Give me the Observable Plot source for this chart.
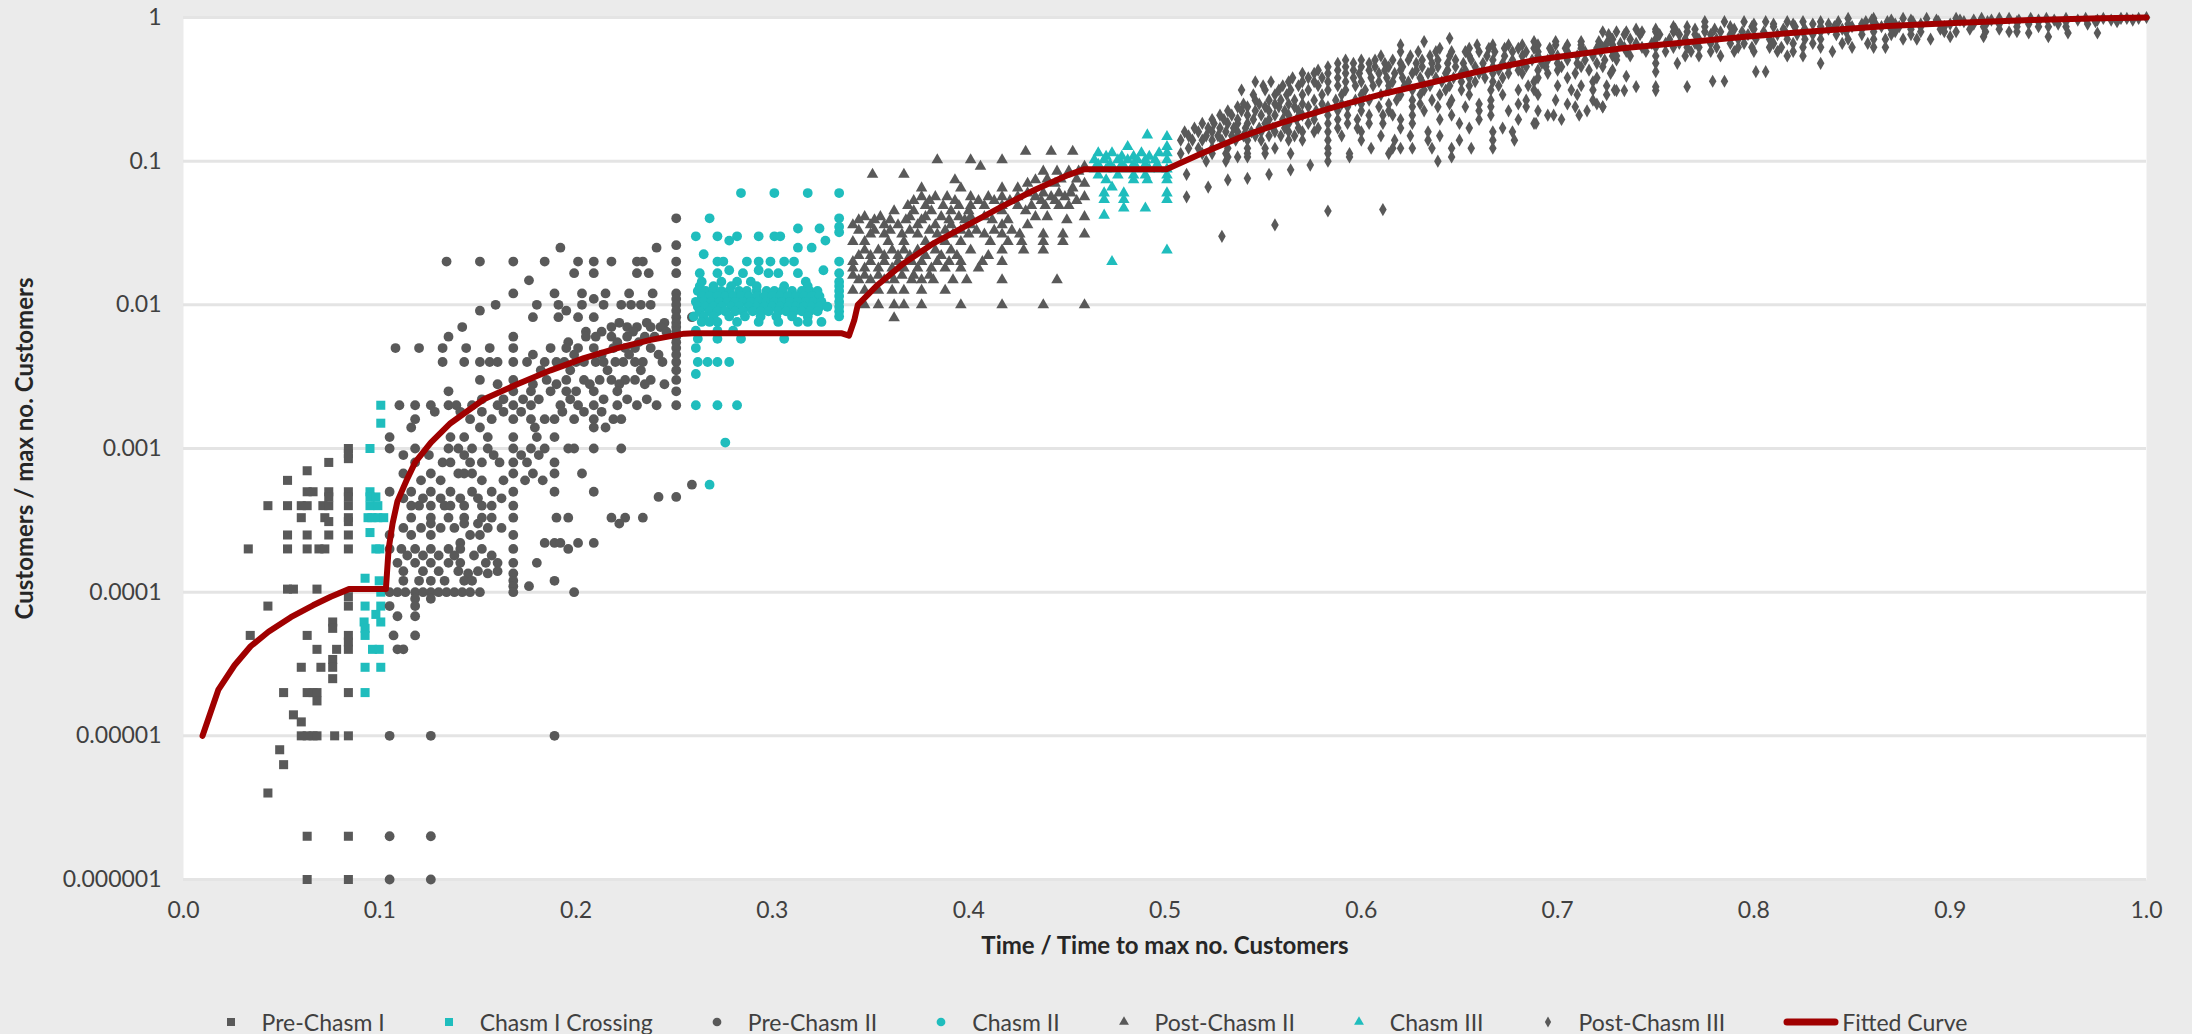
<!DOCTYPE html>
<html><head><meta charset="utf-8">
<script src="https://cdn.jsdelivr.net/npm/d3@7"></script>
<script src="https://cdn.jsdelivr.net/npm/@observablehq/plot@0.6"></script>
<style>
html,body{margin:0;padding:0;background:#ebebeb;}
body{width:2192px;height:1034px;overflow:hidden;position:relative;font-family:Lato,"Open Sans",sans-serif;}
#chart{position:absolute;left:0;top:0;}
#legend{position:absolute;left:0;top:1006px;width:2192px;height:32px;display:flex;justify-content:center;align-items:center;font-size:23px;color:#404040;}
.item{display:flex;align-items:center;margin:0 29px;white-space:nowrap;}
.item svg{margin-right:25px;}
.item.line svg{margin-right:3px;}
</style></head><body>
<div id="chart"></div><div id="legend"></div>
<script>
// ---- axis ticks ----
const xTicks = [0, 0.1, 0.2, 0.3, 0.4, 0.5, 0.6, 0.7, 0.8, 0.9, 1.0];
const yTicks = [1e-6, 1e-5, 1e-4, 1e-3, 1e-2, 1e-1, 1];
const yTickLabels = ["0.000001", "0.00001", "0.0001", "0.001", "0.01", "0.1", "1"];
const xTitle = "Time / Time to max no. Customers";
const yTitle = "Customers / max no. Customers";
const seriesNames = ["Pre-Chasm I", "Chasm I Crossing", "Pre-Chasm II", "Chasm II", "Post-Chasm II", "Chasm III", "Post-Chasm III", "Fitted Curve"];

// ---- series values: rows of [y, [x, x, ...]] ----
const preChasm1 = [
  [0.001, [0.084]], [0.00092, [0.084]], [0.00085, [0.084]], [0.0008, [0.074]], [0.0007, [0.063]], [0.0006, [0.053]],
  [0.0005, [0.063, 0.066, 0.074, 0.084]], [0.00046, [0.074, 0.084]],
  [0.0004, [0.043, 0.053, 0.060, 0.063, 0.071, 0.074, 0.084]],
  [0.00033, [0.060, 0.072, 0.084]], [0.00031, [0.074, 0.084]],
  [0.00025, [0.053, 0.063, 0.074, 0.084]],
  [0.0002, [0.033, 0.053, 0.063, 0.069, 0.072, 0.084]],
  [0.000105, [0.053, 0.056, 0.068]], [0.000093, [0.084]], [0.00008, [0.043, 0.084]],
  [0.000062, [0.076]], [0.000056, [0.076]], [0.00005, [0.034, 0.063, 0.084]], [0.000045, [0.084]],
  [0.00004, [0.068, 0.078, 0.084]], [0.000034, [0.076]], [0.00003, [0.060, 0.070, 0.076]], [0.000025, [0.076]],
  [0.00002, [0.051, 0.063, 0.066, 0.068, 0.084]], [0.0000175, [0.068]], [0.000014, [0.056]], [0.0000125, [0.060]],
  [0.00001, [0.060, 0.063, 0.066, 0.068, 0.077, 0.084]], [0.000008, [0.049]], [0.0000063, [0.051]],
  [0.000004, [0.043]], [0.000002, [0.063, 0.084]], [0.000001, [0.063, 0.084]]
];
const chasm1Crossing = [
  [0.002, [0.1005]], [0.0015, [0.1005]], [0.001, [0.095]], [0.0005, [0.095]], [0.00046, [0.095, 0.098]],
  [0.0004, [0.095, 0.099]], [0.00033, [0.094, 0.096, 0.099, 0.102]], [0.00026, [0.095]], [0.0002, [0.098, 0.1]],
  [0.000125, [0.0925]], [0.00012, [0.0997]], [0.0001, [0.1005]], [0.00008, [0.0925, 0.1005]], [0.00007, [0.098]],
  [0.000062, [0.092, 0.1005]], [0.000056, [0.0925]], [0.00005, [0.0925]], [0.00004, [0.0963, 0.0997]],
  [0.00003, [0.0925, 0.1005]], [0.00002, [0.0925]]
];
const preChasm2 = [
  [0.04, [0.251]], [0.026, [0.251]], [0.025, [0.192, 0.241]],
  [0.02, [0.134, 0.151, 0.168, 0.184, 0.201, 0.209, 0.218, 0.231, 0.234, 0.251]],
  [0.0166, [0.199, 0.209, 0.231, 0.237, 0.251]], [0.0148, [0.176]],
  [0.012, [0.168, 0.189, 0.203, 0.215, 0.227, 0.239, 0.251]], [0.011, [0.209, 0.251]],
  [0.01, [0.159, 0.180, 0.191, 0.203, 0.214, 0.223, 0.228, 0.233, 0.238, 0.251]],
  [0.0091, [0.151, 0.195, 0.251]], [0.0082, [0.178, 0.191, 0.201, 0.209, 0.251, 0.259]],
  [0.0075, [0.222, 0.236, 0.245, 0.251]],
  [0.007, [0.142, 0.218, 0.226, 0.231, 0.238, 0.243, 0.251]],
  [0.0065, [0.205, 0.213, 0.229, 0.246, 0.251]],
  [0.006, [0.135, 0.168, 0.205, 0.21, 0.218, 0.226, 0.235, 0.240, 0.251]],
  [0.0055, [0.196, 0.221, 0.232, 0.251]],
  [0.005, [0.108, 0.120, 0.132, 0.144, 0.156, 0.168, 0.187, 0.195, 0.201, 0.209, 0.219, 0.225, 0.23, 0.238, 0.251]],
  [0.0045, [0.178, 0.199, 0.213, 0.227, 0.242, 0.251]],
  [0.004, [0.132, 0.143, 0.151, 0.156, 0.160, 0.168, 0.175, 0.184, 0.19, 0.194, 0.2, 0.204, 0.21, 0.214, 0.22, 0.224, 0.23, 0.234, 0.244, 0.251]],
  [0.0035, [0.182, 0.197, 0.216, 0.233, 0.251]],
  [0.003, [0.151, 0.168, 0.185, 0.195, 0.204, 0.212, 0.218, 0.225, 0.230, 0.238, 0.251]],
  [0.0028, [0.16, 0.178, 0.19, 0.207, 0.222, 0.235, 0.245]],
  [0.0025, [0.135, 0.168, 0.177, 0.187, 0.195, 0.2, 0.209, 0.221, 0.251]],
  [0.0022, [0.152, 0.163, 0.173, 0.181, 0.197, 0.214, 0.226, 0.236]],
  [0.002, [0.110, 0.118, 0.126, 0.135, 0.139, 0.147, 0.160, 0.168, 0.177, 0.192, 0.201, 0.209, 0.221, 0.231, 0.241, 0.251]],
  [0.0018, [0.128, 0.141, 0.152, 0.163, 0.172, 0.193, 0.204, 0.213]],
  [0.0016, [0.118, 0.146, 0.157, 0.168, 0.177, 0.184, 0.189, 0.199, 0.209, 0.219, 0.223]],
  [0.0014, [0.116, 0.151, 0.179, 0.209, 0.215]],
  [0.0012, [0.105, 0.136, 0.143, 0.155, 0.168, 0.180, 0.189]],
  [0.001, [0.105, 0.118, 0.135, 0.140, 0.147, 0.155, 0.168, 0.177, 0.184, 0.196, 0.199, 0.209, 0.223]],
  [0.0009, [0.112, 0.125, 0.143, 0.158, 0.172, 0.181]],
  [0.0008, [0.118, 0.132, 0.136, 0.146, 0.152, 0.161, 0.168, 0.175, 0.189]],
  [0.00067, [0.112, 0.126, 0.140, 0.143, 0.147, 0.168, 0.178, 0.189, 0.203]],
  [0.0006, [0.121, 0.131, 0.152, 0.163, 0.174, 0.183]],
  [0.00056, [0.259]],
  [0.0005, [0.105, 0.116, 0.126, 0.136, 0.147, 0.157, 0.168, 0.189, 0.209]],
  [0.00046, [0.242, 0.251]], [0.00045, [0.112, 0.122, 0.131, 0.141, 0.15, 0.162]],
  [0.0004, [0.116, 0.12, 0.126, 0.133, 0.136, 0.143, 0.152, 0.157, 0.168]],
  [0.00033, [0.116, 0.126, 0.135, 0.143, 0.152, 0.157, 0.168, 0.190, 0.196, 0.218, 0.225, 0.234]],
  [0.0003, [0.126, 0.143, 0.150, 0.222]], [0.00028, [0.112, 0.121, 0.131, 0.138, 0.155, 0.162]],
  [0.00025, [0.105, 0.116, 0.126, 0.146, 0.151, 0.168]],
  [0.00022, [0.141, 0.184, 0.189, 0.192, 0.201, 0.209]],
  [0.0002, [0.105, 0.111, 0.118, 0.126, 0.135, 0.141, 0.152, 0.168, 0.196]],
  [0.00018, [0.114, 0.122, 0.13, 0.138, 0.148, 0.157]],
  [0.00016, [0.109, 0.118, 0.126, 0.135, 0.141, 0.154, 0.160, 0.168, 0.180]],
  [0.00014, [0.112, 0.122, 0.13, 0.14, 0.15, 0.16]],
  [0.000135, [0.145, 0.155, 0.168]],
  [0.00012, [0.112, 0.12, 0.126, 0.133, 0.143, 0.147, 0.168, 0.189]],
  [0.00011, [0.168, 0.176]],
  [0.0001, [0.105, 0.109, 0.113, 0.118, 0.122, 0.126, 0.13, 0.134, 0.138, 0.142, 0.146, 0.151, 0.168, 0.199]],
  [0.00009, [0.118, 0.126]], [0.00008, [0.105, 0.118]], [0.000068, [0.109, 0.118]],
  [0.00005, [0.107, 0.118]], [0.00004, [0.109, 0.112]],
  [0.00001, [0.105, 0.126, 0.189]], [0.000002, [0.105, 0.126]], [0.000001, [0.105, 0.126]]
];
const chasm2 = [
  [0.06, [0.284, 0.301, 0.318, 0.334]], [0.04, [0.268, 0.334]], [0.035, [0.334]], [0.034, [0.313, 0.324]], [0.032, [0.334]],
  [0.03, [0.261, 0.272, 0.282, 0.293, 0.301, 0.304]], [0.028, [0.278, 0.327]], [0.025, [0.313, 0.320]], [0.0225, [0.265]],
  [0.02, [0.272, 0.275, 0.287, 0.293, 0.299, 0.306, 0.311, 0.334]],
  [0.0174, [0.278, 0.293, 0.326]],
  [0.0166, [0.263, 0.272, 0.285, 0.298, 0.303, 0.313, 0.334]],
  [0.0145, [0.264, 0.274, 0.282, 0.289, 0.317, 0.334]],
  [0.0135, [0.263, 0.27, 0.279, 0.292, 0.306, 0.318, 0.334]],
  [0.0125, [0.262, 0.266, 0.270, 0.274, 0.278, 0.283, 0.287, 0.292, 0.297, 0.301, 0.305, 0.31, 0.315, 0.319, 0.323, 0.334]],
  [0.0115, [0.264, 0.268, 0.272, 0.276, 0.28, 0.284, 0.288, 0.292, 0.296, 0.3, 0.304, 0.308, 0.312, 0.316, 0.32, 0.324, 0.334]],
  [0.0105, [0.261, 0.265, 0.269, 0.273, 0.277, 0.281, 0.285, 0.289, 0.293, 0.297, 0.301, 0.305, 0.309, 0.313, 0.317, 0.321, 0.325, 0.334]],
  [0.0097, [0.262, 0.266, 0.27, 0.274, 0.279, 0.283, 0.288, 0.292, 0.296, 0.3, 0.304, 0.308, 0.312, 0.316, 0.32, 0.324, 0.328, 0.334]],
  [0.009, [0.263, 0.268, 0.272, 0.276, 0.281, 0.285, 0.29, 0.294, 0.298, 0.303, 0.307, 0.311, 0.315, 0.319, 0.323, 0.334]],
  [0.0083, [0.26, 0.265, 0.27, 0.278, 0.286, 0.294, 0.302, 0.31, 0.318, 0.334]],
  [0.0076, [0.264, 0.268, 0.272, 0.282, 0.293, 0.303, 0.313, 0.318, 0.325]],
  [0.0066, [0.261, 0.272, 0.280]], [0.0058, [0.262, 0.272, 0.284, 0.306]], [0.005, [0.261]],
  [0.004, [0.262, 0.267, 0.272, 0.278]], [0.0033, [0.261]], [0.002, [0.261, 0.272, 0.282]],
  [0.0011, [0.276]], [0.00056, [0.268]]
];
const postChasm2 = [
  [0.117, [0.429, 0.442, 0.453]], [0.102, [0.384, 0.401, 0.417]], [0.092, [0.406, 0.459]],
  [0.085, [0.438, 0.445, 0.451, 0.456]], [0.081, [0.351, 0.367]], [0.075, [0.440, 0.447, 0.455]],
  [0.074, [0.393, 0.434]], [0.07, [0.43, 0.444, 0.459]], [0.065, [0.376, 0.396, 0.417, 0.425, 0.453]],
  [0.06, [0.43, 0.438, 0.446, 0.452]],
  [0.0565, [0.376, 0.383, 0.389, 0.401, 0.410, 0.417, 0.425, 0.434, 0.442, 0.449, 0.459]],
  [0.053, [0.372, 0.38, 0.393, 0.405, 0.413, 0.421, 0.437, 0.444, 0.455]],
  [0.049, [0.369, 0.378, 0.387, 0.395, 0.401, 0.408, 0.417, 0.425, 0.432, 0.439, 0.446, 0.451]],
  [0.045, [0.362, 0.372, 0.381, 0.391, 0.400, 0.417, 0.429]],
  [0.041, [0.347, 0.355, 0.370, 0.378, 0.386, 0.395, 0.401, 0.408, 0.434, 0.440, 0.459]],
  [0.039, [0.344, 0.352, 0.36, 0.368, 0.376, 0.39, 0.398, 0.412, 0.42, 0.45]],
  [0.036, [0.341, 0.350, 0.357, 0.364, 0.374, 0.383, 0.391, 0.401, 0.417, 0.430]],
  [0.033, [0.344, 0.352, 0.36, 0.37, 0.38, 0.388, 0.396, 0.404, 0.413, 0.422]],
  [0.031, [0.350, 0.357, 0.366, 0.374, 0.384, 0.392, 0.400, 0.408, 0.417, 0.426, 0.438, 0.448, 0.459]],
  [0.0275, [0.341, 0.347, 0.359, 0.367, 0.378, 0.388, 0.396, 0.411, 0.420, 0.427, 0.438, 0.448]],
  [0.024, [0.347, 0.354, 0.361, 0.367, 0.374, 0.383, 0.391, 0.401, 0.417, 0.428, 0.438]],
  [0.022, [0.344, 0.35, 0.357, 0.364, 0.37, 0.378, 0.386, 0.394, 0.41]],
  [0.02, [0.341, 0.350, 0.357, 0.364, 0.371, 0.376, 0.384, 0.390, 0.396, 0.407, 0.417]],
  [0.018, [0.341, 0.347, 0.354, 0.361, 0.367, 0.374, 0.381, 0.388, 0.396, 0.405]],
  [0.016, [0.341, 0.347, 0.354, 0.36, 0.366, 0.372, 0.38]],
  [0.0149, [0.344, 0.350, 0.357, 0.362, 0.371, 0.376, 0.382, 0.392, 0.399, 0.417, 0.445]],
  [0.0126, [0.341, 0.347, 0.354, 0.361, 0.367, 0.376, 0.388]],
  [0.01, [0.347, 0.354, 0.362, 0.367, 0.376, 0.396, 0.417, 0.438, 0.459]],
  [0.0081, [0.362]]
];
const chasm3 = [
  [0.152, [0.491]], [0.148, [0.501]], [0.126, [0.481, 0.501]], [0.114, [0.466, 0.473, 0.488, 0.497, 0.501]],
  [0.108, [0.47, 0.478, 0.484, 0.492]],
  [0.102, [0.464, 0.469, 0.476, 0.481, 0.486, 0.49, 0.495, 0.501]],
  [0.095, [0.466, 0.472, 0.478, 0.484, 0.49, 0.496]],
  [0.088, [0.464, 0.47, 0.474, 0.48, 0.486, 0.492, 0.497, 0.501]],
  [0.08, [0.466, 0.476, 0.484, 0.49, 0.501]], [0.074, [0.47, 0.484, 0.491, 0.501]], [0.066, [0.473]],
  [0.06, [0.469, 0.479, 0.501]], [0.054, [0.469, 0.479, 0.501]], [0.047, [0.479, 0.49]], [0.042, [0.469]],
  [0.024, [0.501]], [0.02, [0.473]]
];
const postChasm3 = [
  [0.03, [0.529]], [0.036, [0.556]], [0.045, [0.583]], [0.046, [0.611]], [0.0565, [0.511]], [0.066, [0.522]],
  [0.074, [0.532]], [0.076, [0.542]], [0.081, [0.511, 0.553]], [0.087, [0.564]], [0.094, [0.574]],
  [0.1, [0.521, 0.531, 0.583, 0.639]], [0.107, [0.532, 0.537, 0.542, 0.594, 0.646]],
  [0.113, [0.508, 0.519, 0.524, 0.531, 0.542, 0.551, 0.564, 0.583, 0.594, 0.614]],
  [0.123, [0.512, 0.517, 0.524, 0.532, 0.542, 0.551, 0.556, 0.583, 0.605, 0.616, 0.620, 0.626, 0.636, 0.646, 0.656, 0.667]],
  [0.14, [0.508, 0.514, 0.519, 0.524, 0.529, 0.536, 0.542, 0.549, 0.563, 0.570, 0.583, 0.600, 0.617, 0.634, 0.650, 0.667, 0.678]],
  [0.15, [0.512, 0.521, 0.527, 0.534, 0.54, 0.546, 0.553, 0.559, 0.566, 0.59, 0.61, 0.625, 0.64]],
  [0.16, [0.510, 0.517, 0.524, 0.531, 0.537, 0.544, 0.549, 0.556, 0.563, 0.570, 0.576, 0.583, 0.600, 0.634, 0.667, 0.677]],
  [0.17, [0.515, 0.522, 0.528, 0.535, 0.541, 0.548, 0.555, 0.561, 0.568, 0.578, 0.588, 0.598, 0.62, 0.655, 0.672]],
  [0.183, [0.519, 0.525, 0.532, 0.537, 0.542, 0.551, 0.563, 0.573, 0.583, 0.593, 0.604, 0.611, 0.626, 0.650, 0.688, 0.689]],
  [0.195, [0.524, 0.53, 0.537, 0.545, 0.553, 0.56, 0.567, 0.576, 0.588, 0.598, 0.62, 0.64, 0.66, 0.68, 0.702]],
  [0.209, [0.528, 0.534, 0.542, 0.549, 0.556, 0.563, 0.570, 0.583, 0.593, 0.604, 0.611, 0.616, 0.626, 0.646, 0.666, 0.695, 0.698, 0.711]],
  [0.224, [0.532, 0.539, 0.546, 0.553, 0.561, 0.568, 0.577, 0.588, 0.6, 0.614, 0.632, 0.66, 0.675, 0.69, 0.715]],
  [0.239, [0.537, 0.542, 0.551, 0.558, 0.566, 0.573, 0.583, 0.593, 0.609, 0.626, 0.639, 0.653, 0.666, 0.684, 0.709, 0.723]],
  [0.25, [0.54, 0.548, 0.556, 0.563, 0.57, 0.58, 0.59, 0.6, 0.614, 0.63, 0.645, 0.66, 0.68, 0.705, 0.72]],
  [0.266, [0.546, 0.553, 0.559, 0.566, 0.576, 0.587, 0.597, 0.604, 0.618, 0.626, 0.636, 0.646, 0.666, 0.684, 0.699, 0.718]],
  [0.29, [0.545, 0.556, 0.562, 0.57, 0.58, 0.59, 0.6, 0.61, 0.62, 0.63, 0.64, 0.655, 0.672, 0.69, 0.71, 0.725]],
  [0.313, [0.539, 0.551, 0.558, 0.564, 0.573, 0.583, 0.592, 0.602, 0.614, 0.626, 0.632, 0.643, 0.651, 0.666, 0.680, 0.688, 0.707, 0.718, 0.729]],
  [0.335, [0.55, 0.56, 0.568, 0.578, 0.588, 0.597, 0.606, 0.614, 0.622, 0.635, 0.645, 0.655, 0.67, 0.685, 0.7, 0.712, 0.725]],
  [0.357, [0.546, 0.554, 0.563, 0.570, 0.576, 0.583, 0.592, 0.600, 0.609, 0.616, 0.624, 0.631, 0.641, 0.651, 0.658, 0.667, 0.688, 0.718]],
  [0.38, [0.565, 0.573, 0.58, 0.588, 0.596, 0.605, 0.613, 0.621, 0.63, 0.638, 0.647, 0.655, 0.663, 0.672, 0.69, 0.705, 0.72]],
  [0.409, [0.570, 0.576, 0.583, 0.592, 0.599, 0.609, 0.617, 0.626, 0.634, 0.643, 0.651, 0.660, 0.667, 0.675, 0.682, 0.695, 0.709, 0.727]],
  [0.43, [0.578, 0.588, 0.596, 0.604, 0.612, 0.62, 0.628, 0.636, 0.644, 0.653, 0.662, 0.67, 0.68, 0.69, 0.7, 0.716, 0.728]],
  [0.454, [0.583, 0.592, 0.600, 0.607, 0.614, 0.621, 0.631, 0.639, 0.648, 0.658, 0.667, 0.675, 0.684, 0.694, 0.702, 0.712, 0.723]],
  [0.48, [0.588, 0.596, 0.604, 0.612, 0.62, 0.628, 0.636, 0.644, 0.652, 0.662, 0.672, 0.682, 0.692, 0.7, 0.71, 0.72]],
  [0.506, [0.592, 0.600, 0.607, 0.616, 0.624, 0.631, 0.639, 0.648, 0.656, 0.667, 0.677, 0.687, 0.695, 0.705, 0.714, 0.724, 0.730]],
  [0.54, [0.61, 0.625, 0.635, 0.645, 0.655, 0.664, 0.673, 0.682, 0.69, 0.7, 0.71, 0.718, 0.728]],
  [0.578, [0.620, 0.629, 0.638, 0.646, 0.653, 0.660, 0.668, 0.677, 0.684, 0.690, 0.697, 0.705, 0.714, 0.722]],
  [0.61, [0.64, 0.655, 0.665, 0.673, 0.68, 0.688, 0.696, 0.704, 0.712, 0.72]],
  [0.644, [0.620, 0.659, 0.667, 0.675, 0.682, 0.690, 0.699, 0.705, 0.712, 0.721, 0.728]],
  [0.68, [0.632, 0.688, 0.699, 0.712, 0.721]], [0.716, [0.645, 0.727]],
  [0.986, [0.848, 0.861, 0.876, 0.888, 0.903, 0.916, 0.925, 0.930, 0.941, 0.949, 0.959, 0.969, 0.978, 0.987, 0.990, 0.996]],
  [0.96, [0.86, 0.87, 0.88, 0.893, 0.905, 0.912, 0.921, 0.935, 0.945, 0.953, 0.965, 0.975, 0.982, 0.993]],
  [0.935, [0.775, 0.785, 0.795, 0.806, 0.817, 0.825, 0.834, 0.843, 0.857, 0.868, 0.881, 0.894, 0.907, 0.919, 0.934, 0.945, 0.959, 0.974, 0.985]],
  [0.9, [0.8, 0.81, 0.82, 0.83, 0.838, 0.848, 0.855, 0.862, 0.872, 0.885, 0.9, 0.912, 0.925, 0.94, 0.955, 0.97]],
  [0.863, [0.759, 0.766, 0.775, 0.788, 0.799, 0.81, 0.821, 0.834, 0.841, 0.850, 0.865, 0.874, 0.885, 0.897, 0.917, 0.934, 0.945, 0.950, 0.959]],
  [0.83, [0.74, 0.75, 0.76, 0.77, 0.78, 0.79, 0.80, 0.815, 0.826, 0.838, 0.845, 0.855, 0.87, 0.88, 0.895, 0.91, 0.925]],
  [0.796, [0.723, 0.730, 0.735, 0.743, 0.750, 0.759, 0.766, 0.775, 0.783, 0.794, 0.805, 0.816, 0.825, 0.834, 0.847, 0.861, 0.872, 0.885, 0.897, 0.903, 0.918, 0.930, 0.934]],
  [0.78, [0.94, 0.96, 0.975]],
  [0.76, [0.726, 0.734, 0.742, 0.752, 0.762, 0.77, 0.778, 0.788, 0.797, 0.812, 0.822, 0.83, 0.842, 0.855, 0.87, 0.88]],
  [0.735, [0.9, 0.917, 0.95]],
  [0.707, [0.728, 0.737, 0.750, 0.757, 0.765, 0.772, 0.781, 0.792, 0.801, 0.808, 0.817, 0.826, 0.834, 0.848, 0.861, 0.867, 0.876, 0.883, 0.890]],
  [0.66, [0.725, 0.732, 0.74, 0.748, 0.755, 0.762, 0.77, 0.778, 0.788, 0.795, 0.81, 0.82, 0.83, 0.845, 0.858]],
  [0.62, [0.723, 0.734, 0.743, 0.750, 0.759, 0.766, 0.772, 0.781, 0.792, 0.799, 0.808, 0.814, 0.825, 0.834, 0.850, 0.861, 0.867]],
  [0.58, [0.728, 0.735, 0.745, 0.755, 0.768, 0.778, 0.79, 0.8, 0.812, 0.82, 0.84]],
  [0.54, [0.730, 0.737, 0.750, 0.765, 0.772, 0.783, 0.817, 0.825]],
  [0.48, [0.750, 0.761, 0.834]], [0.42, [0.750, 0.801, 0.806]], [0.39, [0.735]], [0.36, [0.779, 0.785]],
  [0.33, [0.740, 0.750, 0.766]], [0.31, [0.730, 0.734, 0.750]], [0.239, [0.723]], [1.0, [1.0]]
];
// fitted curve
const curveX = [0.0097, 0.0178, 0.026, 0.0342, 0.0433, 0.0547, 0.066, 0.075, 0.0843, 0.1031, 0.1045, 0.1065, 0.109, 0.1141, 0.118, 0.126, 0.136, 0.153, 0.170, 0.187, 0.204, 0.221, 0.238, 0.255, 0.26, 0.335, 0.339, 0.3417, 0.3435, 0.3537, 0.367, 0.3825, 0.3996, 0.4166, 0.4335, 0.4506, 0.459, 0.5008, 0.5186, 0.539, 0.561, 0.5866, 0.612, 0.6375, 0.663, 0.6886, 0.714, 0.733, 0.759, 0.7955, 0.832, 0.868, 0.905, 0.941, 0.977, 1.0];
const curveY = [1e-5, 2.1e-5, 3.1e-5, 4.2e-5, 5.3e-5, 6.7e-5, 8.1e-5, 9.3e-5, 1.05e-4, 1.05e-4, 2e-4, 3e-4, 4.3e-4, 6.2e-4, 8e-4, 1.1e-3, 1.5e-3, 2.2e-3, 2.8e-3, 3.5e-3, 4.26e-3, 5.0e-3, 5.7e-3, 6.3e-3, 6.35e-3, 6.35e-3, 6.1e-3, 7.8e-3, 0.01, 0.0138, 0.0195, 0.027, 0.036, 0.048, 0.063, 0.080, 0.088, 0.088, 0.113, 0.148, 0.188, 0.239, 0.296, 0.357, 0.431, 0.506, 0.563, 0.61, 0.66, 0.735, 0.805, 0.873, 0.92, 0.96, 0.987, 1.0];

// ---- styles ----
const GRAY = "#595959", TEAL = "#1fbdbd", RED = "#a00000";
const seriesStyle = [
  {rows: preChasm1, symbol: "square", r: 5.1, fill: GRAY},
  {rows: chasm1Crossing, symbol: "square", r: 5.1, fill: TEAL},
  {rows: preChasm2, symbol: "circle", r: 4.9, fill: GRAY},
  {rows: chasm2, symbol: "circle", r: 4.9, fill: TEAL},
  {rows: postChasm2, symbol: "triangle", r: 4.3, fill: GRAY},
  {rows: chasm3, symbol: "triangle", r: 4.3, fill: TEAL},
  {rows: postChasm3, symbol: "diamond", r: 4.0, fill: GRAY}
];
const flatten = (rows) => rows.flatMap(([y, xs]) => xs.map((x) => ({x, y})));
const curve = curveX.map((x, i) => ({x, y: curveY[i]}));

const chart = Plot.plot({
  width: 2192, height: 972,
  marginLeft: 183, marginRight: 46, marginTop: 17, marginBottom: 93,
  style: {background: "transparent", fontFamily: "Lato, 'Open Sans', sans-serif", fontSize: "23px", color: "#404040", overflow: "visible"},
  x: {domain: [0, 1]},
  y: {type: "log", domain: [1e-6, 1]},
  marks: [
    Plot.frame({fill: "white", stroke: null}),
    Plot.ruleY(yTicks, {stroke: "#e4e4e4", strokeWidth: 3}),
    Plot.axisX({ticks: xTicks, tickSize: 0, tickPadding: 22, tickFormat: d3.format(".1f"), label: null, fontSize: 23}),
    Plot.axisY({ticks: yTicks, tickSize: 0, tickPadding: 22, tickFormat: (d) => yTickLabels[yTicks.indexOf(d)], label: null, fontSize: 23}),
    ...seriesStyle.map((s) => Plot.dot(flatten(s.rows), {x: "x", y: "y", symbol: s.symbol, r: s.r, fill: s.fill, stroke: null})),
    Plot.line(curve, {x: "x", y: "y", stroke: RED, strokeWidth: 6, strokeLinejoin: "round", strokeLinecap: "round"}),
    Plot.text([xTitle], {text: (d) => d, frameAnchor: "bottom", dy: 74, fontWeight: "bold", fontSize: 24, fill: "#262626"}),
    Plot.text([yTitle], {text: (d) => d, frameAnchor: "left", textAnchor: "middle", dx: -158, rotate: -90, fontWeight: "bold", fontSize: 24, fill: "#262626"})
  ]
});
document.getElementById("chart").appendChild(chart);

// ---- legend ----
const legend = d3.select("#legend");
const legendSymbols = [d3.symbolSquare, d3.symbolSquare, d3.symbolCircle, d3.symbolCircle, d3.symbolTriangle, d3.symbolTriangle, d3.symbolDiamond];
const legendSizes = [64, 64, 60, 60, 42, 42, 34];
const legendFills = [GRAY, TEAL, GRAY, TEAL, GRAY, TEAL, GRAY];
seriesNames.forEach((name, i) => {
  const item = legend.append("div").attr("class", i === 7 ? "item line" : "item");
  if (i < 7) {
    const svg = item.append("svg").attr("width", 12).attr("height", 14);
    svg.append("path").attr("transform", "translate(6,7)")
      .attr("d", d3.symbol(legendSymbols[i], legendSizes[i])()).attr("fill", legendFills[i]);
  } else {
    const svg = item.append("svg").attr("width", 56).attr("height", 14);
    svg.append("line").attr("x1", 4).attr("x2", 52).attr("y1", 7).attr("y2", 7)
      .attr("stroke", RED).attr("stroke-width", 7).attr("stroke-linecap", "round");
  }
  item.append("span").text(name);
});
</script></body></html>
